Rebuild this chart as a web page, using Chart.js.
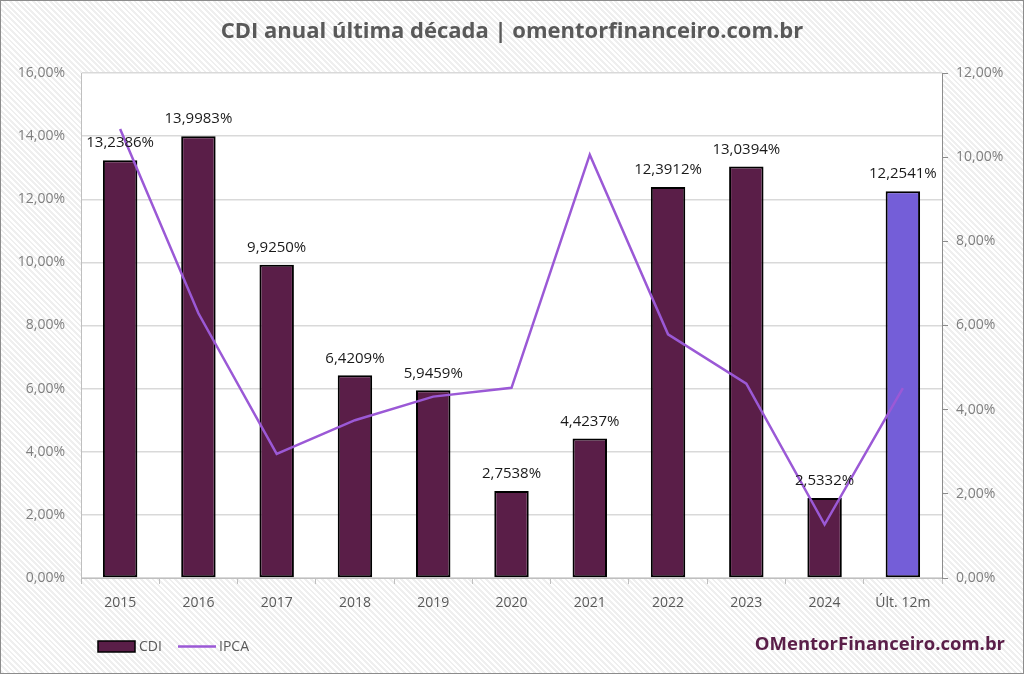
<!DOCTYPE html>
<html>
<head>
<meta charset="utf-8">
<script src="https://cdn.jsdelivr.net/npm/chart.js@4"></script>
<style>
  html, body { margin: 0; padding: 0; }
  #wrap {
    width: 1024px; height: 674px; position: relative;
    background: repeating-linear-gradient(45deg, #ffffff 0px, #ffffff 2px, #efefef 2px, #efefef 4px);
  }
</style>
</head>
<body>
<div id="wrap"><canvas id="myChart" width="1024" height="674"></canvas></div>
<script>
const labels = ["2015", "2016", "2017", "2018", "2019", "2020", "2021", "2022", "2023", "2024", "Últ. 12m"];
const cdi = [13.2386, 13.9983, 9.925, 6.4209, 5.9459, 2.7538, 4.4237, 12.3912, 13.0394, 2.5332, 12.2541];
const ipca = [10.67, 6.29, 2.95, 3.75, 4.31, 4.52, 10.06, 5.79, 4.62, 1.27, 4.51];
const leftTicks = [0, 2, 4, 6, 8, 10, 12, 14, 16];
const rightTicks = [0, 2, 4, 6, 8, 10, 12];

const fmt = (v, d) => v.toFixed(d).replace('.', ',') + '%';
const barColors = cdi.map((v, i) => i === cdi.length - 1 ? '#745ed8' : '#5a1e48');
const FONT = '"Open Sans", sans-serif';

// white plot area, title, labels, legend, brand, border
const decor = {
  id: 'decor',
  beforeDraw(chart) {
    const { ctx, chartArea: a } = chart;
    ctx.save();
    ctx.fillStyle = '#ffffff';
    ctx.fillRect(a.left, a.top, a.right - a.left, a.bottom - a.top);
    ctx.restore();
  },
  afterDraw(chart) {
    const { ctx } = chart;
    ctx.save();
    // title
    ctx.fillStyle = '#595959';
    ctx.font = 'bold 22px ' + FONT;
    ctx.textAlign = 'center';
    ctx.textBaseline = 'middle';
    ctx.fillText('CDI anual última década | omentorfinanceiro.com.br', 512, 32);

    // value labels above bars
    const meta = chart.getDatasetMeta(0);
    ctx.fillStyle = '#1a1a1a';
    ctx.font = '15px ' + FONT;
    meta.data.forEach((bar, i) => {
      ctx.fillText(fmt(cdi[i], 4), bar.x, bar.y - 17);
    });

    // legend
    ctx.fillStyle = '#5a1e48';
    ctx.fillRect(98, 641, 37, 11);
    ctx.strokeStyle = '#000';
    ctx.lineWidth = 1.5;
    ctx.strokeRect(98, 641, 37, 11);
    ctx.strokeStyle = '#9b59d6';
    ctx.lineWidth = 2.5;
    ctx.beginPath();
    ctx.moveTo(178, 646.5);
    ctx.lineTo(216, 646.5);
    ctx.stroke();
    ctx.fillStyle = '#595959';
    ctx.font = '14px ' + FONT;
    ctx.textAlign = 'left';
    ctx.fillText('CDI', 139, 647);
    ctx.fillText('IPCA', 219, 647);

    // brand
    ctx.fillStyle = '#5a1e48';
    ctx.font = 'bold 18.5px ' + FONT;
    ctx.textAlign = 'right';
    ctx.fillText('OMentorFinanceiro.com.br', 1005, 645);

    // outer border
    ctx.strokeStyle = '#8c8c8c';
    ctx.lineWidth = 1;
    ctx.strokeRect(0.5, 0.5, 1023, 673);
    ctx.restore();
  }
};

const data = {
  labels: labels,
  datasets: [
    {
      type: 'bar',
      label: 'CDI',
      data: cdi,
      yAxisID: 'y',
      backgroundColor: barColors,
      borderColor: '#000000',
      borderWidth: 2,
      borderSkipped: false,
      categoryPercentage: 1,
      barPercentage: 0.44,
      order: 1,
    },
    {
      type: 'line',
      label: 'IPCA',
      data: ipca,
      yAxisID: 'y1',
      borderColor: '#9b59d6',
      borderWidth: 2.5,
      pointRadius: 0,
      tension: 0,
      order: 0,
    },
  ],
};

const config = {
  data: data,
  options: {
    responsive: false,
    animation: false,
    layout: { padding: { top: 73, bottom: 56, left: 0, right: 0 } },
    plugins: { legend: { display: false }, tooltip: { enabled: false } },
    scales: {
      x: {
        offset: true,
        grid: { display: true, offset: true, drawOnChartArea: false, drawTicks: true, tickLength: 6, color: '#bfbfbf' },
        border: { color: '#bfbfbf' },
        ticks: { color: '#595959', font: { family: FONT, size: 14 }, padding: 11 },
        afterFit(scale) { scale.height = 40; },
      },
      y: {
        position: 'left',
        min: 0,
        max: 16,
        afterBuildTicks(scale) { scale.ticks = leftTicks.map(v => ({ value: v })); },
        grid: { color: '#d9d9d9', drawTicks: false, lineWidth: 1.5 },
        border: { color: '#bfbfbf' },
        ticks: { color: '#7f7f7f', font: { family: FONT, size: 14 }, padding: 16, callback: v => fmt(v, 2) },
        afterFit(scale) { scale.width = 81; },
      },
      y1: {
        position: 'right',
        min: 0,
        max: 12,
        afterBuildTicks(scale) { scale.ticks = rightTicks.map(v => ({ value: v })); },
        grid: { drawOnChartArea: false, drawTicks: true, tickLength: 6, color: '#8c8c8c' },
        border: { color: '#8c8c8c' },
        ticks: { color: '#7f7f7f', font: { family: FONT, size: 14 }, padding: 8, callback: v => fmt(v, 2) },
        afterFit(scale) { scale.width = 82; },
      },
    },
  },
  plugins: [decor],
};

window.onload = function () {
  const ctx = document.getElementById('myChart').getContext('2d');
  new Chart(ctx, config);
};
</script>
</body>
</html>
